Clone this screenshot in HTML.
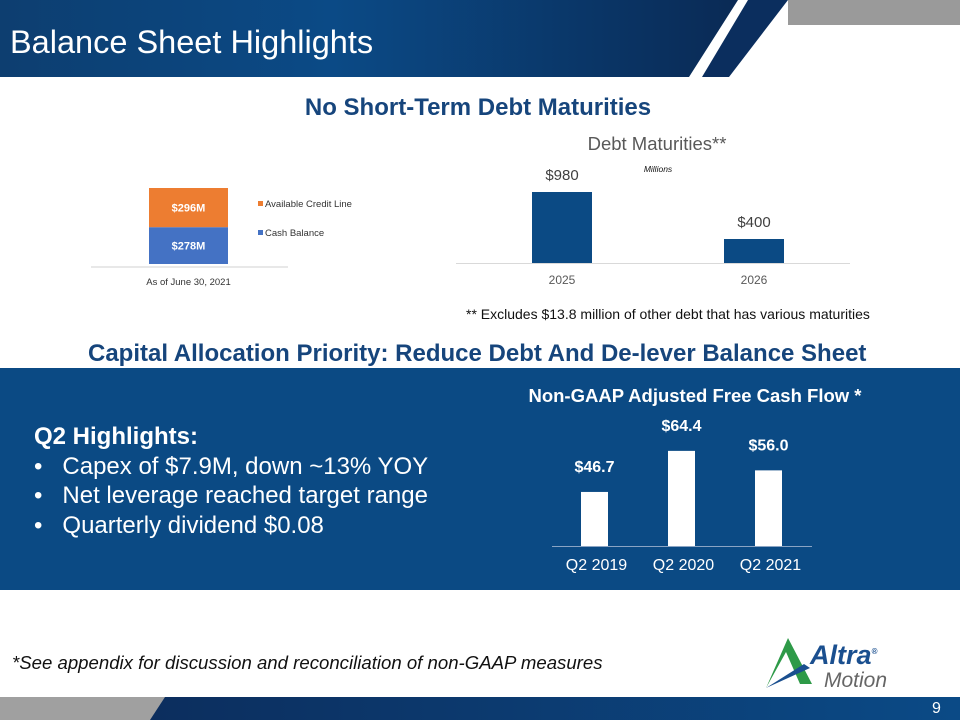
<!DOCTYPE html>
<html><head><meta charset="utf-8"><style>
body{margin:0;width:960px;height:720px;overflow:hidden;background:#fff;font-family:"Liberation Sans",sans-serif;position:relative}
.abs{position:absolute}
</style></head><body>
<svg class="abs" style="left:0;top:0" width="960" height="720">
<defs>
<linearGradient id="hg" x1="0" x2="1" y1="0" y2="0"><stop offset="0" stop-color="#0d3e70"/><stop offset="0.45" stop-color="#0b4a86"/><stop offset="1" stop-color="#0a2a55"/></linearGradient>
<linearGradient id="fg" x1="0" x2="1"><stop offset="0" stop-color="#0c2e5e"/><stop offset="1" stop-color="#0b4a86"/></linearGradient>
</defs>
<rect x="788" y="0" width="172" height="25" fill="#9a9a9a"/>
<polygon points="0,0 738,0 689,77 0,77" fill="url(#hg)"/>
<polygon points="748,0 788,0 729,77 702,77" fill="#0b2e5e"/>
<rect x="0" y="368" width="960" height="222" fill="#0b4a84"/>
<rect x="0" y="697" width="170" height="23" fill="#a0a0a0"/>
<polygon points="165,697 960,697 960,720 150,720" fill="url(#fg)"/>
</svg>
<div class="abs" style="left:10px;top:24px;font-size:32.5px;color:#fff">Balance Sheet Highlights</div>
<div class="abs" style="left:0;width:956px;text-align:center;top:94px;font-size:24px;font-weight:bold;color:#16457c">No Short-Term Debt Maturities</div>
<div class="abs" style="left:88px;top:340px;font-size:24px;font-weight:bold;color:#16457c;white-space:nowrap">Capital Allocation Priority: Reduce Debt And De-lever Balance Sheet</div>
<div class="abs" style="left:466px;top:306px;font-size:14px;color:#111;white-space:nowrap">** Excludes $13.8 million of other debt that has various maturities</div>
<div class="abs" style="left:34px;top:422px;color:#fff;font-size:24px;line-height:29.5px;white-space:nowrap">
<div style="font-weight:bold">Q2 Highlights:</div>
<div>•&nbsp;&nbsp;&nbsp;Capex of $7.9M, down ~13% YOY</div>
<div>•&nbsp;&nbsp;&nbsp;Net leverage reached target range</div>
<div>•&nbsp;&nbsp;&nbsp;Quarterly dividend $0.08</div>
</div>
<div class="abs" style="left:12px;top:652px;font-size:18.6px;font-style:italic;color:#111;white-space:nowrap">*See appendix for discussion and reconciliation of non-GAAP measures</div>
<div class="abs" style="left:932px;top:700px;font-size:16px;color:#fff">9</div>
<div class="abs" style="left:760px;top:636px;width:160px;height:56px">
<svg width="60" height="50" class="abs" style="left:0;top:2px"><polygon points="28,0 52,46 40,46 26,14 6,50" fill="#2e9a48"/><polygon points="6,50 44,26 50,30" fill="#1a4f8f"/></svg>
<div class="abs" style="left:50px;top:4px;font-size:27px;font-weight:bold;font-style:italic;color:#1a4f8f">Altra<sup style="font-size:8px">®</sup></div>
<div class="abs" style="left:64px;top:33px;font-size:21px;font-style:italic;color:#666">Motion</div>
</div>

<svg class="abs" style="left:0;top:0" width="960" height="720" id="charts"></svg>
<script>
// Liquidity stacked bar
const liqCategories=["As of June 30, 2021"];
const liqSeries=["Cash Balance","Available Credit Line"];
const liqValues=[278,296];
const liqLabels=["$278M","$296M"];
const liqColors=["#4472c4","#ed7d31"];
// Debt maturities
const debtYears=["2025","2026"];
const debtValues=[980,400];
const debtLabels=["$980","$400"];
// Free cash flow
const fcfQuarters=["Q2 2019","Q2 2020","Q2 2021"];
const fcfValues=[46.7,64.4,56.0];
const fcfLabels=["$46.7","$64.4","$56.0"];

const NS="http://www.w3.org/2000/svg";
const svg=document.getElementById('charts');
function mk(tag,attrs,text){const e=document.createElementNS(NS,tag);for(const k in attrs)e.setAttribute(k,attrs[k]);if(text!==undefined)e.textContent=text;svg.appendChild(e);return e;}

// Liquidity chart
{const base=264,scale=76/574;
let l=mk('line',{x1:91,x2:288,y1:267,y2:267,stroke:'#d0d0d0'});


let acc=0;
liqValues.forEach((v,i)=>{const y0=base-acc*scale,h=v*scale;acc+=v;
const r=mk('rect',{x:149,y:y0-h,width:79,height:h,fill:liqColors[i]});


const t=mk('text',{x:188.5,y:y0-h/2+4,'text-anchor':'middle','font-size':11,'font-weight':'bold',fill:'#fff'},liqLabels[i]);


const ly=[236,207][i];
const b=mk('rect',{x:258,y:ly-6,width:5,height:5,fill:liqColors[i]});


const lt=mk('text',{x:265,y:ly,'font-size':9.5,fill:'#333'},liqSeries[i]);

});
const c=mk('text',{x:188.5,y:285,'text-anchor':'middle','font-size':9.5,fill:'#333'},liqCategories[0]);

}

// Debt chart
{const base=263,vmin=104,s=71/(980-vmin);const xs=i=>562+i*192;
const t=mk('text',{x:657,y:150,'text-anchor':'middle','font-size':18.5,fill:'#595959'},'Debt Maturities**');


const m=mk('text',{x:658,y:172,'text-anchor':'middle','font-size':8.5,'font-style':'italic',fill:'#111'},'Millions');


const ax=mk('line',{x1:456,x2:850,y1:263.5,y2:263.5,stroke:'#d9d9d9'});


debtValues.forEach((v,i)=>{const h=(v-vmin)*s;
const r=mk('rect',{x:xs(i)-30,y:base-h,width:60,height:h,fill:'#0b4a84'});


const l=mk('text',{x:xs(i),y:base-h-12,'text-anchor':'middle','font-size':15,fill:'#404040'},debtLabels[i]);


const c=mk('text',{x:xs(i),y:284,'text-anchor':'middle','font-size':12,fill:'#595959'},debtYears[i]);

});}

// FCF chart
{const base=546,vmin=23.4,s=2.32;const xs=i=>594.5+i*87;
const t=mk('text',{x:695,y:402,'text-anchor':'middle','font-size':18.5,'font-weight':'bold',fill:'#fff'},'Non-GAAP Adjusted Free Cash Flow *');


const ax=mk('line',{x1:552,x2:812,y1:546.5,y2:546.5,stroke:'#8aa4c4'});


fcfValues.forEach((v,i)=>{const h=(v-vmin)*s;
const r=mk('rect',{x:xs(i)-13.5,y:base-h,width:27,height:h,fill:'#fff'});


const l=mk('text',{x:xs(i),y:base-h-20,'text-anchor':'middle','font-size':16,'font-weight':'bold',fill:'#fff'},fcfLabels[i]);


const c=mk('text',{x:xs(i)+2,y:570,'text-anchor':'middle','font-size':16,fill:'#fff'},fcfQuarters[i]);

});}
</script>
</body></html>
